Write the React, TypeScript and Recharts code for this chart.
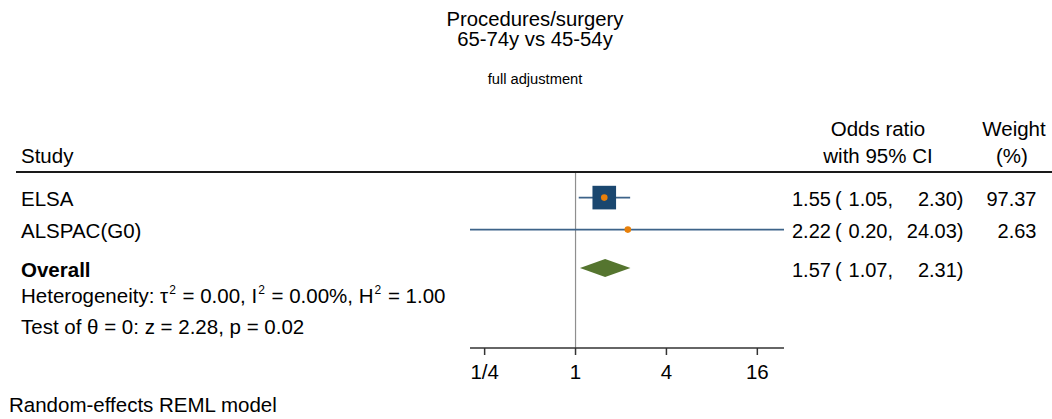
import React from "react";
import { ComposedChart, XAxis, YAxis, Scatter, ReferenceLine } from "recharts";

// ---- data ----
const studies = ["ELSA", "ALSPAC(G0)"];
const oddsRatios = [1.55, 2.22];
const ciLower = [1.05, 0.2];
const ciUpper = [2.3, 24.03];
const weights = [97.37, 2.63];
const studyRows = [1, 2];

const overallLabel = "Overall";
const overallOR = 1.57;
const overallLower = 1.07;
const overallUpper = 2.31;
const overallRow = 3.2;

const tickValues = [0.25, 1, 4, 16];
const tickLabels = ["1/4", "1", "4", "16"];
const xDomain = [0.2, 24.03];
const yDomain = [0.2, 5.7];

const titleLines = ["Procedures/surgery", "65-74y vs 45-54y"];
const subtitle = "full adjustment";
const footnote = "Random-effects REML model";

// ---- style ----
const FONT = "'Liberation Sans', Arial, Helvetica, sans-serif";
const FS = 20.5;
const NUM_FS = 20;
const NAVY = "#1a476f";
const ORANGE = "#e8800a";
const GREEN = "#55752f";
const W = 1052;
const H = 419;
const M = { top: 172, right: 268, bottom: 0, left: 470 };
const AXIS_H = 71;
const plotH = H - M.top - M.bottom - AXIS_H;
const rowPx = (r: number) => M.top + ((r - yDomain[0]) / (yDomain[1] - yDomain[0])) * plotH;
const maxW = Math.max(...weights);

const squareData = studies.map((s, i) => ({ x: oddsRatios[i], y: studyRows[i], w: weights[i], name: s }));
const ciData = studies.map((s, i) => [
  { x: ciLower[i], y: studyRows[i] },
  { x: ciUpper[i], y: studyRows[i] },
]);
const diamondData = [
  { x: overallLower, y: overallRow },
  { x: overallOR, y: overallRow },
  { x: overallUpper, y: overallRow },
];

const f2 = (v: number) => v.toFixed(2);

const SquareShape = (p: any) => {
  const side = 23.6 * Math.sqrt(p.payload.w / maxW);
  return (
    <g>
      <rect x={p.cx - side / 2} y={p.cy - side / 2} width={side} height={side} fill={NAVY} />
      <circle cx={p.cx} cy={p.cy} r={3.3} fill={ORANGE} />
    </g>
  );
};

const Hidden = () => <g />;

const DiamondLine = (lp: any) => {
  const pts = lp.points || [];
  if (pts.length < 3) return <g />;
  const [a, b, c] = pts;
  const hh = 8.9;
  const d = `M${a.x},${a.y} L${b.x},${b.y - hh} L${c.x},${c.y} L${b.x},${b.y + hh} Z`;
  return <path d={d} fill={GREEN} stroke="none" />;
};

const CILine = (lp: any) => {
  const pts = lp.points || [];
  if (pts.length < 2) return <g />;
  return (
    <line x1={pts[0].x} y1={pts[0].y} x2={pts[1].x} y2={pts[1].y} stroke="#3d6389" strokeWidth={1.6} />
  );
};

const T = (props: any) => (
  <text fontFamily={FONT} fontSize={FS} fill="#000" style={{ whiteSpace: "pre" }} {...props} />
);

export default function App() {
  const rowsText = studies.map((s, i) => ({
    label: s,
    est: oddsRatios[i],
    lo: ciLower[i],
    hi: ciUpper[i],
    w: weights[i] as number | null,
    y: rowPx(studyRows[i]) + 8.5,
    bold: false,
  }));
  rowsText.push({
    label: overallLabel,
    est: overallOR,
    lo: overallLower,
    hi: overallUpper,
    w: null,
    y: rowPx(overallRow) + 8.5,
    bold: true,
  });

  return (
    <div style={{ position: "absolute", left: 0, top: 0, width: W, height: H, background: "#fff" }}>
      <ComposedChart width={W} height={H} margin={M}>
        <XAxis
          type="number"
          dataKey="x"
          scale="log"
          domain={xDomain}
          allowDataOverflow
          ticks={tickValues}
          interval={0}
          tickFormatter={(v: number) => tickLabels[tickValues.indexOf(v)] ?? String(v)}
          height={AXIS_H}
          tickSize={7}
          tickMargin={9}
          axisLine={{ stroke: "#333", strokeWidth: 1.5 }}
          tickLine={{ stroke: "#333", strokeWidth: 1.5 }}
          tick={{ fill: "#000", fontSize: FS, fontFamily: FONT }}
        />
        <YAxis type="number" dataKey="y" domain={yDomain} reversed hide allowDataOverflow />
        <ReferenceLine x={1} stroke="#8f8f8f" strokeWidth={1.2} ifOverflow="visible" />
        {ciData.map((d, i) => (
          <Scatter
            key={"ci" + i}
            data={d}
            line={CILine}
            shape={Hidden}
            isAnimationActive={false}
          />
        ))}
        <Scatter data={squareData} shape={SquareShape} isAnimationActive={false} />
        <Scatter data={diamondData} line={DiamondLine} shape={Hidden} isAnimationActive={false} />
      </ComposedChart>
      <svg
        width={W}
        height={H}
        style={{ position: "absolute", left: 0, top: 0, pointerEvents: "none" }}
      >
        <T x={535} y={26} textAnchor="middle" fontSize={20.3}>{titleLines[0]}</T>
        <T x={535} y={46} textAnchor="middle" fontSize={20.3}>{titleLines[1]}</T>
        <T x={535} y={84} textAnchor="middle" fontSize={14.7}>{subtitle}</T>

        <T x={21} y={163}>Study</T>
        <T x={878} y={135.5} textAnchor="middle">Odds ratio</T>
        <T x={878} y={163} textAnchor="middle">with 95% CI</T>
        <T x={1014} y={135.5} textAnchor="middle">Weight</T>
        <T x={1012} y={163} textAnchor="middle">(%)</T>
        <line x1={16} x2={1052} y1={172} y2={172} stroke="#1a1a1a" strokeWidth={1.8} />

        {rowsText.map((r, i) => (
          <g key={i}>
            <T x={21} y={r.y} fontWeight={r.bold ? "bold" : "normal"}>{r.label}</T>
            <T x={792} y={r.y} fontSize={NUM_FS}>{f2(r.est)}</T>
            <T x={835} y={r.y} fontSize={NUM_FS}>(</T>
            <T x={893} y={r.y} fontSize={NUM_FS} textAnchor="end">{f2(r.lo) + ","}</T>
            <T x={963.5} y={r.y} fontSize={NUM_FS} textAnchor="end">{f2(r.hi) + ")"}</T>
            {r.w !== null && (
              <T x={1036.5} y={r.y} fontSize={NUM_FS} textAnchor="end">{f2(r.w)}</T>
            )}
          </g>
        ))}

        <T x={21} y={303}>
          <tspan>Heterogeneity: τ</tspan>
          <tspan dy={-9} fontSize={12} dx={1}>2</tspan>
          <tspan dy={9} dx={1}> = 0.00, I</tspan>
          <tspan dy={-9} fontSize={12} dx={1}>2</tspan>
          <tspan dy={9} dx={1}> = 0.00%, H</tspan>
          <tspan dy={-9} fontSize={12} dx={1}>2</tspan>
          <tspan dy={9} dx={1}> = 1.00</tspan>
        </T>
        <T x={21} y={334}>Test of θ = 0: z = 2.28, p = 0.02</T>

        <T x={9} y={412}>{footnote}</T>
      </svg>
    </div>
  );
}
